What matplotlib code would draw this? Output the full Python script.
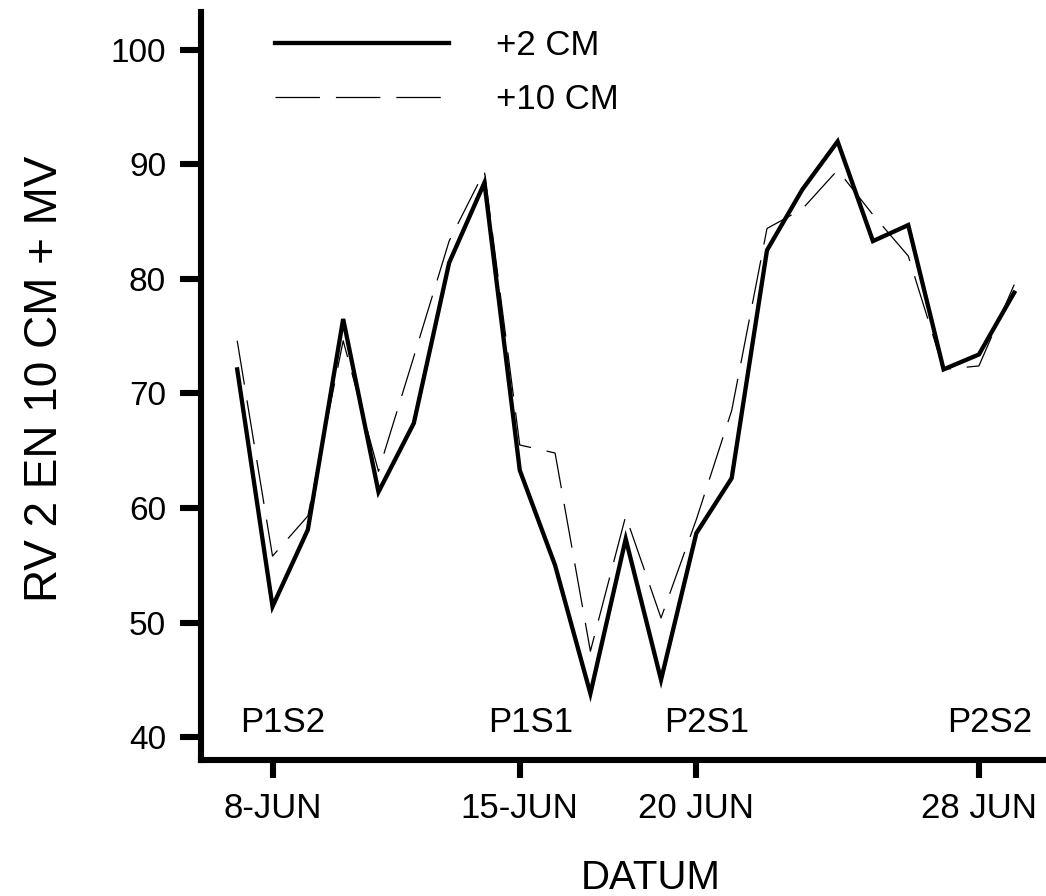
import matplotlib
matplotlib.use('Agg')
import matplotlib.pyplot as plt
import numpy as np

plt.rcParams['font.family'] = ['Liberation Sans', 'DejaVu Sans']
plt.rcParams['lines.scale_dashes'] = False

# days of june
days = np.arange(7, 30)
rv_2cm = [72.1, 51.4, 58.1, 76.5, 61.4, 67.4, 81.4, 88.4, 63.3, 55.0, 43.8, 57.3,
          45.0, 57.8, 62.6, 82.5, 87.8, 92.0, 83.3, 84.7, 72.1, 73.4, 78.8]
rv_10cm = [74.6, 55.8, 59.3, 74.6, 63.2, 73.2, 83.3, 89.4, 65.5, 64.8, 47.5, 59.3,
           50.4, 59.0, 68.5, 84.4, 86.1, 89.5, 85.6, 82.0, 72.1, 72.4, 79.5]

tick_days = [8, 15, 20, 28]
tick_labels = ['8-JUN', '15-JUN', '20 JUN', '28 JUN']
period_days = [8, 15, 20, 28]
period_labels = ['P1S2', 'P1S1', 'P2S1', 'P2S2']

fig = plt.figure(figsize=(10.46, 8.96), dpi=100)
ax = fig.add_axes([0.192, 0.1518, 0.808, 0.8348])

ax.plot(days, rv_2cm, color='black', linewidth=3.1, solid_joinstyle='miter', label='+2 CM')
ax.plot(days, rv_10cm, color='black', linewidth=0.9, dashes=(32, 11.5), label='+10 CM')

ax.set_xlim(5.97, 29.9)
ax.set_ylim(38.0, 103.3)

ax.set_yticks([40, 50, 60, 70, 80, 90, 100])
ax.set_xticks(tick_days)
ax.set_xticklabels(tick_labels)

for side in ['top', 'right']:
    ax.spines[side].set_visible(False)
for side in ['left', 'bottom']:
    ax.spines[side].set_linewidth(4.4)

ax.tick_params(axis='y', direction='out', length=15, width=4.4, pad=10, labelsize=24)
ax.tick_params(axis='x', direction='out', length=13, width=4.4, pad=10, labelsize=25)

for d, lab in zip(period_days, period_labels):
    ax.text(d + 0.3, 41.3, lab, ha='center', va='center', fontsize=25)

ax.set_ylabel('RV 2 EN 10 CM + MV', fontsize=33)
ax.yaxis.set_label_coords(-0.158, 0.51)
ax.set_xlabel('DATUM', fontsize=29)
ax.xaxis.set_label_coords(0.532, -0.132)

leg = ax.legend(loc='upper left', bbox_to_anchor=(0.088, 0.977), frameon=False,
                fontsize=25, handlelength=5.0, handletextpad=1.35, labelspacing=0.6,
                borderpad=0, borderaxespad=0)

fig.savefig('out.png', dpi=100)
